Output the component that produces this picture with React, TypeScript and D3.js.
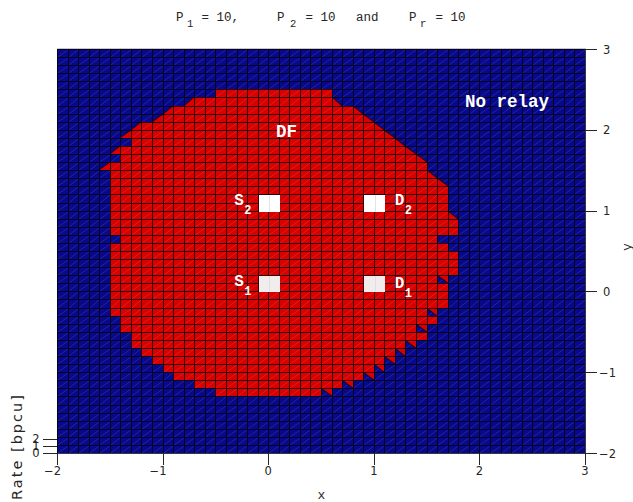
import React from "react";
import * as d3 from "d3";

const width = 633;
const height = 502;

// DF region: one entry per grid row (top edge of the row), with the x edges of the red span
const dfRowTop = [2.5, 2.4, 2.3, 2.2, 2.1, 2.0, 1.9, 1.8, 1.7, 1.6, 1.5, 1.4, 1.3, 1.2, 1.1, 1.0, 0.9, 0.8, 0.7,
  0.6, 0.5, 0.4, 0.3, 0.2, 0.1, 0.0, -0.1, -0.2, -0.3, -0.4, -0.5, -0.6, -0.7, -0.8, -0.9, -1.0, -1.1, -1.2];
const dfLeft = [-0.5, -0.7, -0.9, -1.0, -1.2, -1.3, -1.3, -1.4, -1.4, -1.5, -1.5, -1.5, -1.5, -1.5, -1.5, -1.5, -1.5, -1.5, -1.4,
  -1.5, -1.5, -1.5, -1.5, -1.5, -1.5, -1.5, -1.5, -1.5, -1.4, -1.4, -1.3, -1.3, -1.2, -1.1, -1.0, -0.9, -0.7, -0.5];
const dfRight = [0.6, 0.7, 0.9, 1.0, 1.1, 1.2, 1.3, 1.4, 1.5, 1.5, 1.6, 1.7, 1.7, 1.7, 1.7, 1.8, 1.8, 1.8, 1.6,
  1.7, 1.8, 1.8, 1.8, 1.7, 1.7, 1.7, 1.7, 1.6, 1.6, 1.5, 1.5, 1.4, 1.3, 1.2, 1.1, 1.0, 0.8, 0.6];

// node positions
const nodeName = ["S", "S", "D", "D"];
const nodeSub = ["1", "2", "1", "2"];
const nodeX = [0, 0, 1, 1];
const nodeY = [0, 1, 0, 1];

const xTicks = [-2, -1, 0, 1, 2, 3];
const yTicks = [-2, -1, 0, 1, 2, 3];
const zTicks = [0, 1, 2];

const RED = "#d80000";
const BLUE = "#08088c";
const step = 0.1;

const x = d3.scaleLinear().domain([-2, 3]).range([57, 585]);
const y = d3.scaleLinear().domain([-2, 3]).range([453, 49]);
const z = d3.scaleLinear().domain([0, 2]).range([453, 439]);
// pixel-snapped versions for the mesh
const px = (v: number) => Math.round(x(v));
const py = (v: number) => Math.round(y(v));

const r1 = (v: number) => Math.round(v * 10) / 10;
const cols = d3.range(50).map(i => r1(-2 + i * step));
const rowTops = d3.range(50).map(j => r1(3 - j * step));

type Tri = { cx: number; top: number; kind: string };

function buildRegion() {
  const tris: Tri[] = [];
  const trimRight = new Set<number>();
  for (let k = 1; k < dfRowTop.length; k++) {
    if (k < 19) {
      if (dfLeft[k] < dfLeft[k - 1]) tris.push({ cx: r1(dfLeft[k] - step), top: dfRowTop[k], kind: "lr" });
      if (dfRight[k] > dfRight[k - 1]) {
        tris.push({ cx: r1(dfRight[k] - step), top: dfRowTop[k], kind: "ll" });
        trimRight.add(k);
      }
    } else if (dfRight[k] < dfRight[k - 1]) {
      tris.push({ cx: r1(dfRight[k] - step), top: dfRowTop[k], kind: "ur" });
      trimRight.add(k);
    }
  }
  const isDF = (cx: number, top: number) => {
    const k = dfRowTop.findIndex(t => Math.abs(t - top) < 1e-6);
    if (k < 0) return false;
    const right = trimRight.has(k) ? dfRight[k] - step : dfRight[k];
    return cx >= dfLeft[k] - 1e-6 && cx + step <= right + 1e-6;
  };
  return { tris, isDF };
}

function triPoints(t: Tri) {
  const X0 = px(t.cx), X1 = px(t.cx + step), Yt = py(t.top), Yb = py(t.top - step);
  if (t.kind === "lr") return [[X0, Yb], [X1, Yb], [X1, Yt]];
  if (t.kind === "ll") return [[X0, Yt], [X0, Yb], [X1, Yb]];
  return [[X0, Yt], [X1, Yt], [X1, Yb]];
}

export default function App() {
  const { tris, isDF } = buildRegion();
  const mono = "'Liberation Mono', 'Courier New', monospace";
  const sans = "'DejaVu Sans', sans-serif";

  const cells = [];
  const diags = [];
  for (const top of rowTops) {
    for (const cx of cols) {
      const X0 = px(cx), X1 = px(cx + step), Yt = py(top), Yb = py(top - step);
      cells.push(
        <rect key={`c${cx}_${top}`} x={X0} y={Yt} width={X1 - X0} height={Yb - Yt}
          fill={isDF(cx, top) ? RED : BLUE} />
      );
      diags.push(`M${X0 + 1},${Yb}L${X1},${Yt + 1}`);
    }
  }

  const gridPath = [
    ...cols.concat([3]).map(v => `M${px(v) + 0.5},${py(3)}V${py(-2) + 1}`),
    ...rowTops.concat([-2]).map(v => `M${px(-2)},${py(v) + 0.5}H${px(3) + 1}`),
  ].join("");

  const line = d3.line();

  return (
    <svg width={width} height={height} style={{ position: "absolute", left: 0, top: 0, background: "#fff" }}>
      <rect width={width} height={height} fill="#fff" />
      <g shapeRendering="crispEdges">{cells}</g>
      <path d={diags.join("")} stroke="#fff" strokeOpacity={0.14} strokeWidth={0.8} fill="none" />
      <g>
        {tris.map((t, i) => {
          const p = triPoints(t) as [number, number][];
          return (
            <g key={`t${i}`}>
              <path d={line(p) + "Z"} fill={RED} />
              <path d={line([p[0], p[2]])!} stroke="#200000" strokeWidth={0.9} fill="none" />
            </g>
          );
        })}
      </g>
      <path d={gridPath} stroke="#000" strokeOpacity={0.78} strokeWidth={1} fill="none" shapeRendering="crispEdges" />
      <line x1={px(-2)} x2={px(3) + 1} y1={48.5} y2={48.5} stroke="#c8c8c8" shapeRendering="crispEdges" />

      {nodeX.map((nx, i) => (
        <g key={`n${i}`}>
          <rect x={px(nx - 0.1) + 1} y={py(nodeY[i] + 0.2) + 1} width={px(nx + 0.1) - px(nx - 0.1)}
            height={py(nodeY[i]) - py(nodeY[i] + 0.2)} fill={nodeY[i] === 0 ? "#f1eded" : "#ffffff"} />
          <line x1={px(nx) + 1.5} x2={px(nx) + 1.5} y1={py(nodeY[i] + 0.2) + 1} y2={py(nodeY[i]) + 1}
            stroke="#dcdcdc" strokeWidth={0.8} />
        </g>
      ))}

      {/* node labels */}
      {nodeX.map((nx, i) => {
        const lx = nx === 0 ? x(nx) - 34 : x(nx) + 21;
        const ly = y(nodeY[i]) - 6 + (nodeY[i] === 0 ? 1 : 0) + (nodeName[i] === "D" && nodeY[i] === 0 ? 2 : 0);
        return (
          <g key={`l${i}`} fill="#fff" fontFamily={mono} fontWeight="bold">
            <text x={lx} y={ly} fontSize={16}>{nodeName[i]}</text>
            <text x={lx + 10} y={ly + 9} fontSize={12}>{nodeSub[i]}</text>
          </g>
        );
      })}
      <text x={276} y={137} fill="#fff" fontFamily={mono} fontWeight="bold" fontSize={17.5}>DF</text>
      <text x={465} y={106.5} fill="#fff" fontFamily={mono} fontWeight="bold" fontSize={17.5}>No relay</text>

      {/* axes */}
      <g stroke="#262626" shapeRendering="crispEdges">
        {xTicks.map(t => <line key={`xt${t}`} x1={px(t) + 0.5} x2={px(t) + 0.5} y1={py(-2)} y2={py(-2) + 12} />)}
        {yTicks.map(t => <line key={`yt${t}`} x1={px(3)} x2={px(3) + 12} y1={py(t) + 0.5} y2={py(t) + 0.5} />)}
        {zTicks.map(t => <line key={`zt${t}`} x1={px(-2) - 14} x2={px(-2)} y1={Math.round(z(t)) + 0.5} y2={Math.round(z(t)) + 0.5} />)}
      </g>
      <g fontFamily={sans} fontSize={11.5} fill="#262626">
        {xTicks.map(t => (
          <text key={`xl${t}`} x={x(t) + (t < 0 ? -4.5 : 0)} y={475} textAnchor="middle">
            {t < 0 ? `\u2212${-t}` : t}
          </text>
        ))}
        {yTicks.map(t => (
          <text key={`yl${t}`} x={t < 0 ? 599 : 603} y={y(t) + 4.5}>
            {t < 0 ? `\u2212${-t}` : t}
          </text>
        ))}
        {zTicks.map(t => (
          <text key={`zl${t}`} x={36} y={z(t) + 4} textAnchor="middle">{t}</text>
        ))}
      </g>
      <text x={321.5} y={499} textAnchor="middle" fontFamily={mono} fontSize={13} fill="#262626">x</text>
      <text transform="translate(631,247) rotate(-90)" textAnchor="middle" fontFamily={mono} fontSize={13} fill="#262626">y</text>
      <text transform="translate(22,447.5) rotate(-90)" textAnchor="middle" fontFamily={sans} fontSize={14.5}
        fill="#262626" textLength={105} lengthAdjust="spacing">Rate [bpcu]</text>

      {/* title */}
      <g fontFamily={mono} fill="#262626">
        <text x={176} y={21} fontSize={12.5}>P</text>
        <text x={187} y={27} fontSize={10.5}>1</text>
        <text x={201.5} y={21} fontSize={12.5}>= 10,</text>
        <text x={277} y={21} fontSize={12.5}>P</text>
        <text x={290} y={27} fontSize={10.5}>2</text>
        <text x={305.5} y={21} fontSize={12.5}>= 10</text>
        <text x={356} y={21} fontSize={12.5}>and</text>
        <text x={409} y={21} fontSize={12.5}>P</text>
        <text x={420} y={27} fontSize={10.5}>r</text>
        <text x={435.5} y={21} fontSize={12.5}>= 10</text>
      </g>
    </svg>
  );
}
